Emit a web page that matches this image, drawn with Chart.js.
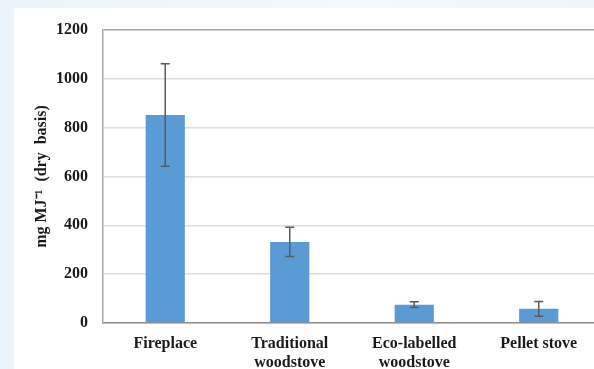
<!DOCTYPE html>
<html>
<head>
<meta charset="utf-8">
<script src="https://cdn.jsdelivr.net/npm/chart.js@4/dist/chart.umd.min.js"></script>
<style>
  html, body { margin: 0; padding: 0; width: 594px; height: 369px; overflow: hidden; }
  body { background: linear-gradient(90deg, #eaf4fa 0%, #f3f9fc 60%, #eef6fb 100%); position: relative; }
  #card { position: absolute; left: 14px; top: 8px; width: 592px; height: 361px; background: #ffffff; }
  #card canvas { display: block; }
</style>
</head>
<body>
<div id="card"><canvas id="c" width="592" height="361"></canvas></div>
<script>
// Emission factors by appliance type, mg per MJ (dry basis)
const categories = [["Fireplace"], ["Traditional", "woodstove"], ["Eco-labelled", "woodstove"], ["Pellet stove"]];
const meanValues = [852, 332, 75, 58];
const errorValues = [210, 60, 12, 30];
const yTicks = [0, 200, 400, 600, 800, 1000, 1200];

const serif = '"Liberation Serif", "Times New Roman", serif';

// Draws symmetric error bars on top of each bar using the value scale
const errorBars = {
  id: 'errorBars',
  afterDatasetsDraw(chart) {
    const meta = chart.getDatasetMeta(0);
    const y = chart.scales.y;
    const ctx = chart.ctx;
    ctx.save();
    ctx.strokeStyle = '#5a5a5a';
    ctx.lineWidth = 1.5;
    meta.data.forEach((bar, i) => {
      const hi = y.getPixelForValue(meanValues[i] + errorValues[i]);
      const lo = y.getPixelForValue(meanValues[i] - errorValues[i]);
      const x = bar.x;
      ctx.beginPath();
      ctx.moveTo(x, hi); ctx.lineTo(x, lo);
      ctx.moveTo(x - 4.5, hi); ctx.lineTo(x + 4.5, hi);
      ctx.moveTo(x - 4.5, lo); ctx.lineTo(x + 4.5, lo);
      ctx.stroke();
    });
    ctx.restore();
  }
};

new Chart(document.getElementById('c'), {
  type: 'bar',
  data: {
    labels: categories,
    datasets: [{
      data: meanValues,
      backgroundColor: '#5b9bd5',
      borderWidth: 0,
      barPercentage: 0.315,
      categoryPercentage: 1.0
    }]
  },
  options: {
    responsive: false,
    animation: false,
    devicePixelRatio: 1,
    layout: { padding: { left: 0, right: 5, top: 22, bottom: 0 } },
    plugins: { legend: { display: false }, tooltip: { enabled: false } },
    scales: {
      x: {
        afterFit(s) { s.height = 46; },
        grid: { display: false, drawTicks: false },
        border: { color: '#8f8f8f', width: 1.5 },
        ticks: {
          color: '#1a1a1a',
          padding: 11,
          font: { family: serif, size: 16, weight: 'bold', lineHeight: 1.2 },
          maxRotation: 0, autoSkip: false
        }
      },
      y: {
        min: 0, max: 1200,
        afterFit(s) { s.width = 89; s.paddingTop = 10; s.paddingBottom = 10; },
        afterBuildTicks(s) { s.ticks = yTicks.map(v => ({ value: v })); },
        grid: {
          drawTicks: false,
          lineWidth: 1.5,
          color: c => (c.tick && c.tick.value === 1200) ? '#a5a5a5' : '#dedede'
        },
        border: { color: '#a8a8a8', width: 1.5 },
        ticks: {
          color: '#1a1a1a',
          padding: 15,
          callback: v => String(v),
          font: { family: serif, size: 16, weight: 'bold' }
        },
        title: {
          display: true,
          text: 'mg MJ\u207B\u00B9  (dry  basis)',
          color: '#1a1a1a',
          padding: { top: 18, bottom: 0 },
          font: { family: serif, size: 16, weight: 'bold' }
        }
      }
    }
  },
  plugins: [errorBars]
});
</script>
</body>
</html>
